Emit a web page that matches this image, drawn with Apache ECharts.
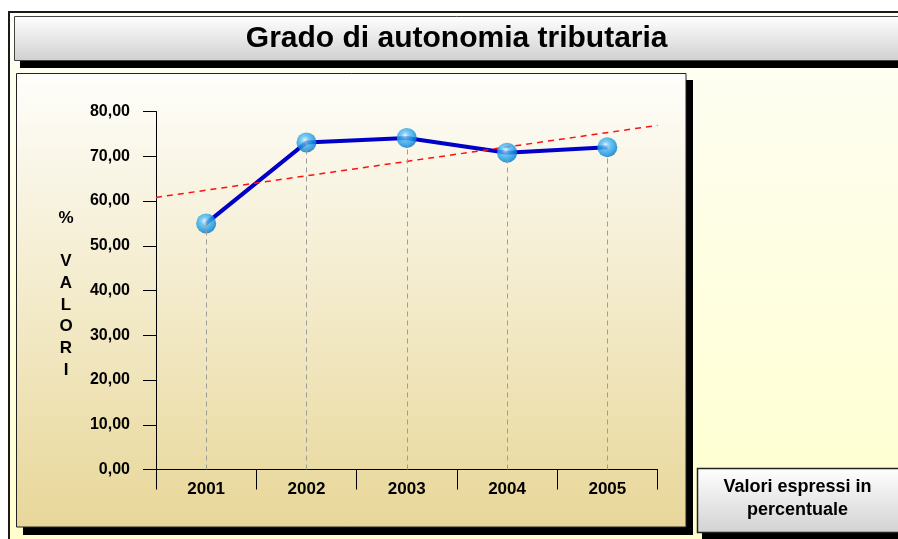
<!DOCTYPE html>
<html>
<head>
<meta charset="utf-8">
<script src="https://cdn.jsdelivr.net/npm/echarts@6/dist/echarts.min.js"></script>
<style>
html,body{margin:0;padding:0;background:#fff;}
#c{width:898px;height:539px;}
</style>
</head>
<body>
<div id="c"></div>
<script>
// ---- data ----
var years = ['2001', '2002', '2003', '2004', '2005'];
var values = [55.0, 73.1, 74.1, 70.8, 72.0];
var trendEnds = [60.8, 76.9];           // trend line value at left / right plot edge
var yMin = 0, yMax = 80, yStep = 10;
var titleText = 'Grado di autonomia tributaria';
var axisNameText = '%\n\nV\nA\nL\nO\nR\nI';
var noteText = 'Valori espressi in\npercentuale';

var FONT = "'Liberation Sans', Arial, sans-serif";
var chart = echarts.init(document.getElementById('c'), null, {renderer: 'canvas'});

function lin(c1, c2) {
  return {type: 'linear', x: 0, y: 0, x2: 0, y2: 1, colorStops: [{offset: 0, color: c1}, {offset: 1, color: c2}]};
}

var dropLines = years.map(function (y, i) {
  return [{coord: [y, 0]}, {coord: [y, values[i]]}];
});

var option = {
  animation: false,
  backgroundColor: '#ffffff',
  grid: {left: 156, right: 240.5, top: 111.5, bottom: 69.5, containLabel: false},
  xAxis: [{
    type: 'category',
    data: years,
    boundaryGap: true,
    axisLine: {show: true, onZero: false, lineStyle: {color: '#000', width: 1}},
    axisTick: {show: true, interval: 0, alignWithLabel: false, inside: false, length: 20, lineStyle: {color: '#000', width: 1}},
    axisLabel: {margin: 11, color: '#000', fontFamily: FONT, fontWeight: 'bold', fontSize: 17},
    splitLine: {show: false}
  }, {
    type: 'value',
    min: -0.5,
    max: years.length - 0.5,
    show: false,
    axisLine: {onZero: false}
  }],
  yAxis: {
    type: 'value',
    min: yMin, max: yMax, interval: yStep,
    axisLine: {show: true, onZero: false, lineStyle: {color: '#000', width: 1}},
    axisTick: {show: true, length: 13, lineStyle: {color: '#000', width: 1}},
    axisLabel: {margin: 26, color: '#000', fontFamily: FONT, fontWeight: 'bold', fontSize: 16,
      formatter: function (v) { return v.toFixed(2).replace('.', ','); }},
    splitLine: {show: false}
  },
  series: [{
    type: 'line',
    data: values,
    z: 2,
    symbol: 'none',
    lineStyle: {color: '#0000C8', width: 4},
    markLine: {
      silent: true,
      symbol: ['none', 'none'],
      label: {show: false},
      lineStyle: {color: '#9c9c9c', width: 1, type: [5, 4]},
      data: dropLines
    }
  }, {
    type: 'line',
    xAxisIndex: 1,
    z: 3,
    symbol: 'none',
    data: [[-0.5, trendEnds[0]], [years.length - 0.5, trendEnds[1]]],
    lineStyle: {color: '#FF1010', width: 1.5, type: [6, 5]}
  }, {
    type: 'scatter',
    z: 4,
    data: values,
    symbol: 'circle',
    symbolSize: 20,
    itemStyle: {
      color: {type: 'radial', x: 0.42, y: 0.38, r: 0.62, colorStops: [
        {offset: 0, color: '#dff6ff'},
        {offset: 0.3, color: '#5cc0f2'},
        {offset: 0.75, color: '#1597e2'},
        {offset: 1, color: '#0a70c4'}
      ]}
    }
  }],
  graphic: [
    // outer frame
    {type: 'rect', z: -20, shape: {x: 9, y: 12, width: 900, height: 540},
      style: {fill: lin('#fefef6', '#ffffcc'), stroke: '#1a1a1a', lineWidth: 2}},
    // title shadow + box
    {type: 'rect', z: -19, shape: {x: 20, y: 56, width: 890, height: 12}, style: {fill: '#000'}},
    {type: 'rect', z: -18, shape: {x: 14.5, y: 16.5, width: 900, height: 44},
      style: {fill: lin('#ffffff', '#d0d0d0'), stroke: '#444', lineWidth: 1}},
    {type: 'text', z: 10, style: {x: 456.7, y: 39, text: titleText, align: 'center', verticalAlign: 'middle',
      font: 'bold 30px ' + FONT, fill: '#000'}},
    // plot panel shadow + panel
    {type: 'rect', z: -17, shape: {x: 23, y: 80, width: 670, height: 455}, style: {fill: '#000'}},
    {type: 'rect', z: -16, shape: {x: 16.5, y: 73.5, width: 669.5, height: 453.5},
      style: {fill: lin('#fefefb', '#e8d799'), stroke: '#222', lineWidth: 1}},
    // axis name
    {type: 'text', z: 10, style: {x: 66, y: 294, text: axisNameText, align: 'center', verticalAlign: 'middle',
      font: 'bold 17px ' + FONT, lineHeight: 21.7, fill: '#000'}},
    // note box
    {type: 'rect', z: -15, shape: {x: 702, y: 473, width: 200, height: 66}, style: {fill: '#000'}},
    {type: 'rect', z: -14, shape: {x: 697.5, y: 468.5, width: 205, height: 64},
      style: {fill: lin('#ffffff', '#d2d2d2'), stroke: '#222', lineWidth: 1.5}},
    {type: 'text', z: 10, style: {x: 797.5, y: 499, text: noteText, align: 'center', verticalAlign: 'middle',
      font: 'bold 18px ' + FONT, lineHeight: 23, fill: '#000'}}
  ]
};
chart.setOption(option);
</script>
</body>
</html>
